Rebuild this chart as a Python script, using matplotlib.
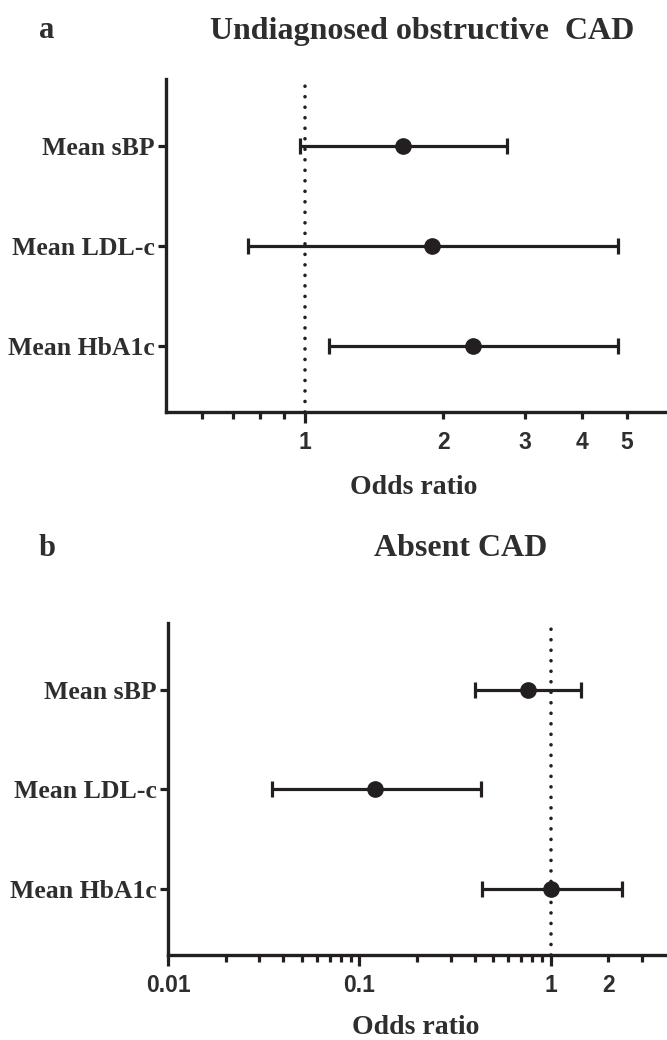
import numpy as np
import matplotlib
matplotlib.use("Agg")
import matplotlib.pyplot as plt
from matplotlib.ticker import FixedLocator

# data (odds ratio with 95% CI)
labels = ['Mean sBP', 'Mean LDL-c', 'Mean HbA1c']

or_a = [1.63, 1.89, 2.32]
lo_a = [0.975, 0.755, 1.13]
hi_a = [2.75, 4.78, 4.78]

or_b = [0.76, 0.121, 1.0]
lo_b = [0.40, 0.035, 0.435]
hi_b = [1.44, 0.43, 2.37]

line_col = '#231f20'
text_col = '#2e2e2e'
serif = 'Liberation Serif'
sans = 'Liberation Sans'

fig = plt.figure(figsize=(6.67, 10.40), dpi=100)

ax_a = fig.add_axes([166/667, 1 - 412/1040, 499/667, 333/1040])
ax_b = fig.add_axes([168/667, 1 - 955/1040, 498/667, 332/1040])


def forest(ax, ors, los, his, xlim, minor, minor_labels):
    y = np.arange(len(ors))[::-1] + 1
    ors = np.array(ors)
    xerr = [ors - np.array(los), np.array(his) - ors]
    ax.axvline(1, color=line_col, linewidth=2.6, linestyle=(0, (0.01, 2.9)),
               dash_capstyle='round', zorder=1)
    ax.errorbar(ors, y, xerr=xerr, fmt='o', color=line_col, ecolor=line_col,
                markersize=11, elinewidth=2.3, capsize=6, capthick=2.3, zorder=3)
    ax.set_xscale('log')
    ax.set_xlim(*xlim)
    ax.set_ylim(0.34, 3.67)

    ax.xaxis.set_major_locator(FixedLocator([t for t in [0.01, 0.1, 1] if xlim[0] <= t <= xlim[1]]))
    ax.set_xticks(minor, labels=minor_labels, minor=True)
    ax.xaxis.set_major_formatter(plt.FuncFormatter(lambda v, p: f'{v:g}'))

    ax.set_yticks(y, labels=labels)

    for s in ['top', 'right']:
        ax.spines[s].set_visible(False)
    for s in ['left', 'bottom']:
        ax.spines[s].set_linewidth(2.4)
        ax.spines[s].set_color(line_col)

    ax.tick_params(axis='x', which='major', length=8, width=2.3, color=line_col, pad=6)
    ax.tick_params(axis='x', which='minor', length=5, width=2.3, color=line_col, pad=9)
    ax.tick_params(axis='y', length=6, width=2.3, color=line_col, pad=2)
    for t in ax.get_xticklabels(which='both'):
        t.set_fontfamily(sans)
        t.set_fontweight('bold')
        t.set_fontsize(16.5)
        t.set_color(text_col)
    for t in ax.get_yticklabels():
        t.set_fontfamily(serif)
        t.set_fontweight('bold')
        t.set_fontsize(18.5)
        t.set_color(text_col)


forest(ax_a, or_a, lo_a, hi_a, (0.5, 6.05),
       [0.6, 0.7, 0.8, 0.9, 2, 3, 4, 5], ['', '', '', '', '2', '3', '4', '5'])

minor_b = [k * 0.01 for k in range(2, 10)] + [k * 0.1 for k in range(2, 10)] + [2, 3]
minor_b_lab = [''] * 16 + ['2', '']
forest(ax_b, or_b, lo_b, hi_b, (0.01, 4.0), minor_b, minor_b_lab)

# titles, panel letters, axis labels
tkw = dict(fontfamily=serif, fontweight='bold', color=text_col, ha='center', va='center')
fig.text(47/667, 1 - 31/1040, 'a', fontsize=22, **tkw)
fig.text(422/667, 1 - 31/1040, 'Undiagnosed obstructive  CAD', fontsize=23, **tkw)
fig.text(47/667, 1 - 548/1040, 'b', fontsize=22, **tkw)
fig.text(461/667, 1 - 548/1040, 'Absent CAD', fontsize=23, **tkw)
fig.text(414/667, 1 - 488/1040, 'Odds ratio', fontsize=20, **tkw)
fig.text(416/667, 1 - 1028/1040, 'Odds ratio', fontsize=20, **tkw)

fig.savefig('out.png', dpi=100)
